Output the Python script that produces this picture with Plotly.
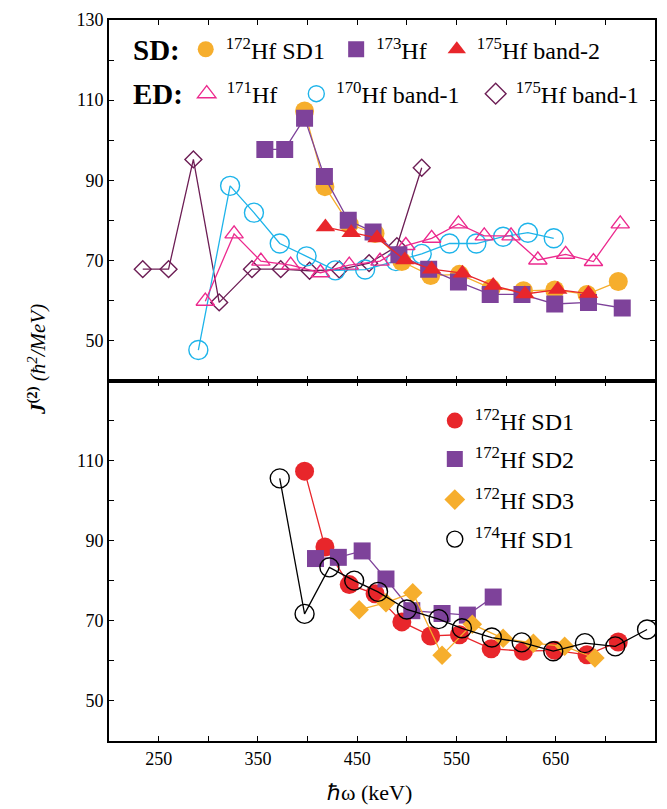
import plotly.graph_objects as go

# ---------------- data ----------------
# Top panel
hf172_sd1_x = [397, 417.5, 442, 468, 495, 524, 553, 585, 617.5, 649, 681.5, 713]
hf172_sd1_y = [107.3, 88.4, 79.0, 76.7, 69.7, 66.2, 66.5, 63.0, 62.4, 62.6, 61.5, 64.7]

hf173_x = [357, 377, 397, 417, 441, 466, 492, 522, 552, 584, 616, 649, 683, 717]
hf173_y = [97.7, 97.7, 105.5, 90.9, 80.0, 77.1, 71.4, 67.8, 64.6, 61.5, 61.5, 59.1, 59.5, 58.1]

hf175_b2_x = [418, 444, 470, 498, 525, 556, 587, 619, 652, 683]
hf175_b2_y = [78.3, 76.9, 75.6, 70.1, 67.8, 66.8, 63.7, 61.6, 62.7, 61.7]

hf171_x = [297, 326, 353, 383, 413, 442, 473, 499, 525, 552, 578, 605, 632, 660, 688, 715]
hf171_y = [59.8, 76.6, 69.8, 68.8, 66.9, 68.8, 69.8, 73.7, 75.5, 79.1, 76.1, 76.1, 70.1, 71.5, 69.7, 79.1]

hf170_b1_x = [290, 322, 346, 372, 399, 428, 458, 489, 515, 543, 570, 597, 622, 648]
hf170_b1_y = [47.6, 88.6, 81.9, 74.2, 71.0, 67.5, 67.7, 69.8, 71.6, 74.2, 74.2, 75.9, 76.9, 75.5]

hf175_b1_x = [234, 260, 285, 311, 344, 373, 402, 432, 462, 490, 515]
hf175_b1_y = [67.8, 67.8, 95.2, 59.5, 67.8, 67.8, 67.4, 67.7, 69.3, 73.5, 93.1]

# Bottom panel
hf172_sd2_x = [408, 431, 455, 479, 505, 535.5, 561, 587]
hf172_sd2_y = [85.5, 85.8, 87.4, 80.4, 72.5, 71.8, 71.4, 75.9]

hf172_sd3_x = [452, 479, 506, 535.5, 566, 597, 627.5, 659, 689.5]
hf172_sd3_y = [72.7, 74.5, 77.0, 61.4, 69.1, 65.6, 64.4, 63.6, 60.7]

hf174_sd1_x = [372, 397, 422, 447, 471, 500, 532, 555.5, 585.6, 615.7, 647.5, 679.4, 710, 742]
hf174_sd1_y = [105.5, 71.7, 83.3, 80.0, 77.2, 72.8, 70.4, 68.1, 65.8, 64.6, 62.4, 64.4, 63.6, 67.8]

# Labels
top_sd_names = ["<sup>172</sup>Hf SD1", "<sup>173</sup>Hf", "<sup>175</sup>Hf band-2"]
top_ed_names = ["<sup>171</sup>Hf", "<sup>170</sup>Hf band-1", "<sup>175</sup>Hf band-1"]
bot_names = ["<sup>172</sup>Hf SD1", "<sup>172</sup>Hf SD2", "<sup>172</sup>Hf SD3", "<sup>174</sup>Hf SD1"]

# ---------------- style ----------------
ORANGE = "#F6AE2D"
PURPLE = "#7E429A"
RED = "#E8262B"
MAGENTA = "#EC2A8E"
CYAN = "#1EB4EA"
DPURPLE = "#6D1E55"
FONT = "Liberation Serif"

W, H = 667, 809
ML, MR, MT, MB = 109, 10, 11, 68
PW, PH = W - ML - MR, H - MT - MB

fig = go.Figure()


def series(x, y, color, symbol, size, xa, ya, open_=False, lw=1.3):
    if open_:
        marker = dict(symbol=symbol + "-open", size=size, color=color, line=dict(width=1.4, color=color))
    else:
        marker = dict(symbol=symbol, size=size, color=color, line=dict(width=0))
    fig.add_trace(go.Scatter(x=x, y=y, mode="lines+markers", line=dict(color=color, width=lw),
                             marker=marker, showlegend=False, xaxis=xa, yaxis=ya, hoverinfo="x+y"))


# top panel (draw order)
series(hf175_b1_x, hf175_b1_y, DPURPLE, "diamond", 13, "x", "y", open_=True)
series(hf170_b1_x, hf170_b1_y, CYAN, "circle", 19, "x", "y", open_=True)
series(hf171_x, hf171_y, MAGENTA, "triangle-up", 16, "x", "y", open_=True)
series(hf172_sd1_x, hf172_sd1_y, ORANGE, "circle", 19, "x", "y")
series(hf173_x, hf173_y, PURPLE, "square", 17, "x", "y")
series(hf175_b2_x, hf175_b2_y, RED, "triangle-up", 17, "x", "y")

# bottom panel
series(hf172_sd1_x, hf172_sd1_y, RED, "circle", 19, "x2", "y2")
series(hf172_sd2_x, hf172_sd2_y, PURPLE, "square", 17, "x2", "y2")
series(hf172_sd3_x, hf172_sd3_y, ORANGE, "diamond", 15, "x2", "y2")
series(hf174_sd1_x, hf174_sd1_y, "black", "circle", 19, "x2", "y2", open_=True)

# ---------------- legends (one per entry, placed like the reference) ----------------
legend_specs = [
    # name, color, symbol, open, symbol-centre px (x, y)
    (top_sd_names[0], ORANGE, "circle", False, 208, 41),
    (top_sd_names[1], PURPLE, "square", False, 359, 41),
    (top_sd_names[2], RED, "triangle-up", False, 460, 41),
    (top_ed_names[0], MAGENTA, "triangle-up", True, 209, 86),
    (top_ed_names[1], CYAN, "circle", True, 319, 86),
    (top_ed_names[2], DPURPLE, "diamond", True, 499, 86),
    (bot_names[0], RED, "circle", False, 458, 417),
    (bot_names[1], PURPLE, "square", False, 458, 456),
    (bot_names[2], ORANGE, "diamond", False, 458, 497),
    (bot_names[3], "black", "circle", True, 458, 537),
]

legend_layout = {}
for i, (name, color, sym, op, cx, cy) in enumerate(legend_specs):
    key = "legend" if i == 0 else f"legend{i + 1}"
    if op:
        mk = dict(symbol=sym + "-open", size=16, color=color, line=dict(width=1.4, color=color))
    else:
        mk = dict(symbol=sym, size=16, color=color, line=dict(width=0))
    fig.add_trace(go.Scatter(x=[None], y=[None], mode="markers", marker=mk, name=name,
                             legend=key, showlegend=True, xaxis="x", yaxis="y", hoverinfo="skip"))
    legend_layout[key] = dict(
        x=(cx - 22 - ML) / PW, y=(H - MB - cy) / PH, xanchor="left", yanchor="middle",
        bgcolor="rgba(0,0,0,0)", borderwidth=0, itemwidth=30,
        font=dict(family=FONT, size=24, color="black"),
    )

axis_common = dict(
    showline=True, linecolor="black", linewidth=2, mirror="allticks",
    ticks="inside", ticklen=5, tickwidth=1, tickcolor="black",
    showgrid=False, zeroline=False,
    tickfont=dict(family=FONT, size=18, color="black"),
)

fig.update_layout(
    width=W, height=H,
    margin=dict(l=ML, r=MR, t=MT, b=MB),
    paper_bgcolor="white", plot_bgcolor="white",
    font=dict(family=FONT, color="black"),
    xaxis=dict(domain=[0, 1], anchor="y", range=[200, 750], tick0=250, dtick=100,
               showticklabels=False, matches="x2",
               minor=dict(dtick=50, tick0=200, ticks="inside", ticklen=5, tickcolor="black"),
               **axis_common),
    yaxis=dict(domain=[0.5, 1], anchor="x", range=[40, 130], tick0=50, dtick=20,
               minor=dict(dtick=10, tick0=40, ticks="inside", ticklen=5, tickcolor="black"),
               **axis_common),
    xaxis2=dict(domain=[0, 1], anchor="y2", range=[200, 750], tick0=250, dtick=100,
                minor=dict(dtick=50, tick0=200, ticks="inside", ticklen=5, tickcolor="black"),
                **axis_common),
    yaxis2=dict(domain=[0, 0.5], anchor="x2", range=[40, 129.9], tick0=50, dtick=20,
                minor=dict(dtick=10, tick0=40, ticks="inside", ticklen=5, tickcolor="black"),
                **axis_common),
    **legend_layout,
)

fig.add_annotation(text="<b>SD:</b>", xref="paper", yref="paper",
                   x=(131 - ML) / PW, y=(H - MB - 41) / PH, xanchor="left", yanchor="middle",
                   showarrow=False, font=dict(family=FONT, size=29, color="black"))
fig.add_annotation(text="<b>ED:</b>", xref="paper", yref="paper",
                   x=(131 - ML) / PW, y=(H - MB - 86) / PH, xanchor="left", yanchor="middle",
                   showarrow=False, font=dict(family=FONT, size=29, color="black"))

fig.add_annotation(text="<b><i>J</i><sup>(2)</sup></b> <i>(ħ<sup>2</sup>/MeV)</i>",
                   xref="paper", yref="paper", x=(37 - ML) / PW, y=(H - MB - 355) / PH,
                   xanchor="center", yanchor="middle", textangle=-90, showarrow=False,
                   font=dict(family=FONT, size=21, color="black"))

fig.add_annotation(text="ℏω (keV)", xref="paper", yref="paper",
                   x=(370 - ML) / PW, y=(H - MB - 793) / PH,
                   xanchor="center", yanchor="middle", showarrow=False,
                   font=dict(family=FONT, size=22, color="black"))

fig.write_html("out.html")
